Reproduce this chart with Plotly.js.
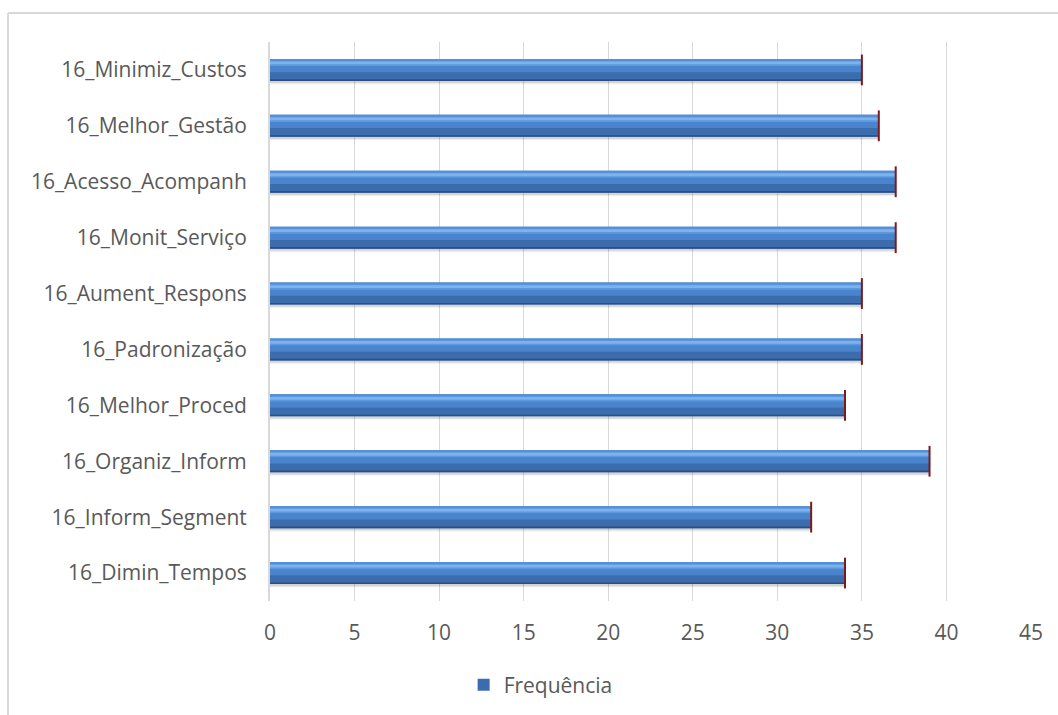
<!DOCTYPE html>
<html>
<head>
<meta charset="utf-8">
<script src="https://cdn.plot.ly/plotly-3.0.1.min.js"></script>
<style>
  html, body { margin: 0; padding: 0; background: #ffffff; overflow: hidden; }
  #chart { width: 1058px; height: 715px; }
</style>
</head>
<body>
<div id="chart"></div>
<script>
// Categories listed bottom to top, as they appear on the vertical axis
const categories = [
  "16_Dimin_Tempos",
  "16_Inform_Segment",
  "16_Organiz_Inform",
  "16_Melhor_Proced",
  "16_Padronização",
  "16_Aument_Respons",
  "16_Monit_Serviço",
  "16_Acesso_Acompanh",
  "16_Melhor_Gestão",
  "16_Minimiz_Custos"
];
const frequencia = [34, 32, 39, 34, 35, 35, 37, 37, 36, 35];
const seriesName = "Frequência";
const xTicks = [0, 5, 10, 15, 20, 25, 30, 35, 40, 45];

const W = 1058, H = 715;
const M = { l: 270, r: 27, t: 42, b: 114 };
const plotW = W - M.l - M.r, plotH = H - M.t - M.b;
const px2x = p => (p - M.l) / plotW;
const px2y = p => (H - M.b - p) / plotH;

const textColor = "#595959";
const fontFamily = "'Open Sans', Lato, sans-serif";
const fontSize = 21;

// Layered bars give the bevelled, shaded look of each bar
function layer(offset, width, color, extra) {
  return Object.assign({
    type: "bar",
    orientation: "h",
    x: frequencia,
    y: categories,
    offset: offset,
    width: width,
    marker: { color: color, line: { width: 0 } },
    hoverinfo: "skip",
    showlegend: false
  }, extra || {});
}

const traces = [
  layer(-0.255, 0.06, "rgba(0,0,0,0.07)"),
  layer(-0.235, 0.04, "rgba(0,0,0,0.10)"),
  Object.assign(layer(-0.197, 0.394, "#3b6cae"), {
    name: seriesName, showlegend: true, hoverinfo: "x+y"
  }),
  layer(-0.197, 0.03, "#2c4e80"),
  layer(-0.04, 0.21, "#4a84cc"),
  layer(0.07, 0.10, "#5d98dc"),
  layer(0.10, 0.05, "#7cb3ee"),
  layer(0.165, 0.032, "#5690d6"),
  {
    type: "scatter",
    mode: "markers",
    x: frequencia,
    y: categories,
    marker: { symbol: "line-ns", size: 22, line: { color: "#7a1c1c", width: 2 } },
    hoverinfo: "skip",
    showlegend: false
  }
];

const layout = {
  width: W,
  height: H,
  margin: M,
  paper_bgcolor: "#ffffff",
  plot_bgcolor: "#ffffff",
  barmode: "overlay",
  font: { family: fontFamily, size: fontSize, color: textColor },
  xaxis: {
    range: [0, 45],
    tickvals: xTicks,
    ticktext: xTicks.map(String),
    showgrid: true,
    gridcolor: "#d9d9d9",
    gridwidth: 1,
    zeroline: false,
    showline: false,
    ticks: "",
    ticklabelstandoff: 17,
    tickfont: { family: fontFamily, size: fontSize, color: textColor },
    fixedrange: true
  },
  yaxis: {
    type: "category",
    categoryorder: "array",
    categoryarray: categories,
    range: [-0.5, categories.length - 0.5],
    showgrid: false,
    zeroline: false,
    showline: true,
    linecolor: "#d9d9d9",
    linewidth: 2,
    ticks: "",
    ticklabelstandoff: 17,
    tickfont: { family: fontFamily, size: fontSize, color: textColor },
    fixedrange: true
  },
  showlegend: true,
  legend: {
    orientation: "h",
    xref: "container",
    yref: "container",
    x: 0.511,
    xanchor: "center",
    y: 1 - 685 / H,
    yanchor: "middle",
    font: { family: fontFamily, size: fontSize, color: textColor },
    bgcolor: "rgba(0,0,0,0)"
  },
  shapes: [
    { type: "line", xref: "paper", yref: "paper", x0: px2x(8), x1: px2x(W + 5), y0: px2y(13), y1: px2y(13),
      line: { color: "#d9d9d9", width: 2 }, layer: "below" },
    { type: "line", xref: "paper", yref: "paper", x0: px2x(8), x1: px2x(8), y0: px2y(13), y1: px2y(H + 5),
      line: { color: "#d9d9d9", width: 2 }, layer: "below" }
  ]
};

Plotly.newPlot("chart", traces, layout, { displayModeBar: false, staticPlot: true });
</script>
</body>
</html>
